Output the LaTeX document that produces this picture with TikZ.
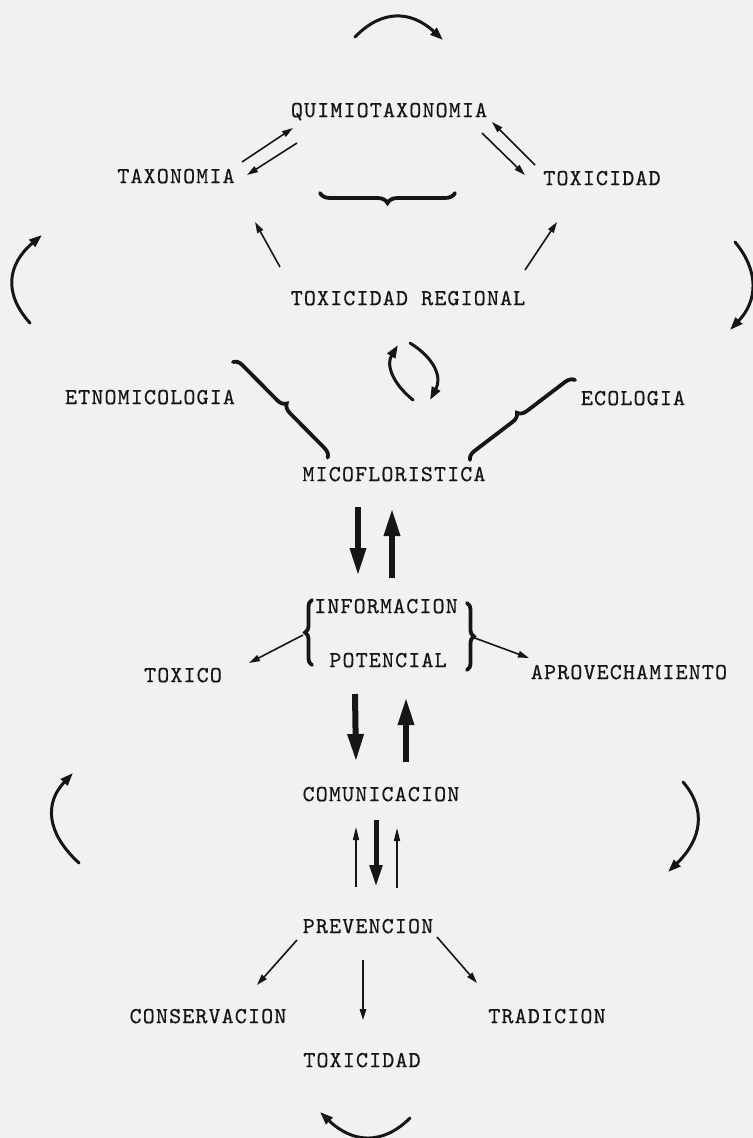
\documentclass[tikz,border=0pt]{standalone}
\usepackage{fontspec}
\newfontfamily\tw[LetterSpace=4.9,FakeBold=0.5]{lmmono10-regular.otf}
\usetikzlibrary{arrows.meta,decorations.pathreplacing}
\definecolor{bg}{RGB}{241,241,241}
\definecolor{ink}{RGB}{22,22,22}
\begin{document}
\begin{tikzpicture}[x=1bp,y=-1bp,
  lbl/.style={font=\tw\fontsize{23}{27}\selectfont, text=ink, inner sep=0pt, text depth=0pt},
  arr/.style={draw=ink, line width=1.6bp, -{Triangle[length=11bp,width=6.5bp]}},
  thinarr/.style={draw=ink, line width=1.4bp, -{Triangle[length=13bp,width=6bp]}},
  fatarr/.style={draw=ink, line width=6bp, -{Triangle[length=28bp,width=15bp]}},
  cyc/.style={draw=ink, line width=3bp, line cap=round, -{Triangle[length=13bp,width=9bp]}},
  brc/.style={draw=ink, line width=3.8bp, line cap=round, decorate, decoration={brace, amplitude=#1}},
]
\fill[bg] (0,0) rectangle (753,1138);
\useasboundingbox (0,0) rectangle (753,1138);

% nodes
\node[lbl] (quim) at (389,110) {QUIMIOTAXONOMIA};
\node[lbl] (tax) at (176,176) {TAXONOMIA};
\node[lbl] (toxt) at (602,178) {TOXICIDAD};
\node[lbl] (treg) at (408,298) {TOXICIDAD REGIONAL};
\node[lbl] (etno) at (150,397) {ETNOMICOLOGIA};
\node[lbl] (eco) at (633,398) {ECOLOGIA};
\node[lbl] (mico) at (394,474) {MICOFLORISTICA};
\node[lbl] (info) at (386,606) {INFORMACION};
\node[lbl] (pot) at (388,660) {POTENCIAL};
\node[lbl] (toxico) at (183,675) {TOXICO};
\node[lbl] (aprov) at (629,672) {APROVECHAMIENTO};
\node[lbl] (com) at (381,794) {COMUNICACION};
\node[lbl] (prev) at (368,926) {PREVENCION};
\node[lbl] (cons) at (208,1016) {CONSERVACION};
\node[lbl] (trad) at (547,1016) {TRADICION};
\node[lbl] (toxb) at (362,1060) {TOXICIDAD};

% top triangle connectors
\draw[arr] ([shift={(66,-14)}]tax.center) -- ([shift={(-96,18)}]quim.center);
\draw[arr] ([shift={(-92,33)}]quim.center) -- ([shift={(71,-1)}]tax.center);
\draw[arr] ([shift={(93,23)}]quim.center) -- ([shift={(-77,-3)}]toxt.center);
\draw[arr] ([shift={(-67,-13)}]toxt.center) -- ([shift={(103,12)}]quim.center);
\draw[arr] ([shift={(-128,-31)}]treg.center) -- ([shift={(79,46)}]tax.center);
\draw[arr] ([shift={(117,-28)}]treg.center) -- ([shift={(-45,44)}]toxt.center);

% braces
\draw[brc=10bp] (455,193) -- (320,193);
\draw[brc=9bp] (233,362) -- (328,458);
\draw[brc=9bp] (470,460) -- (575,380);
\draw[brc=7bp] (312,665) -- (312,600);
\draw[brc=7bp] (467,603) -- (467,670);

% thick vertical arrows
\draw[fatarr] ([shift={(-36,33)}]mico.center) -- ([shift={(-28,-30)}]info.center);
\draw[fatarr] ([shift={(6,-28)}]info.center) -- ([shift={(-2,34)}]mico.center);
\draw[fatarr] ([shift={(-33,34)}]pot.center) -- ([shift={(-25,-32)}]com.center);
\draw[fatarr] ([shift={(25,-32)}]com.center) -- ([shift={(18,37)}]pot.center);

% informacion side arrows
\draw[arr] ([shift={(-83,29)}]info.center) -- ([shift={(66,-12)}]toxico.center);
\draw[arr] ([shift={(86,31)}]info.center) -- ([shift={(-100,-14)}]aprov.center);

% comunicacion <-> prevencion
\draw[thinarr] ([shift={(-12,-39)}]prev.center) -- ([shift={(-25,33)}]com.center);
\draw[draw=ink, line width=5bp, -{Triangle[length=22bp,width=12bp]}] ([shift={(-5,26)}]com.center) -- ([shift={(8,-39)}]prev.center);
\draw[thinarr] ([shift={(29,-38)}]prev.center) -- ([shift={(16,34)}]com.center);

% prevencion outputs
\draw[arr] ([shift={(-71,14)}]prev.center) -- ([shift={(49,-31)}]cons.center);
\draw[arr] ([shift={(-5,34)}]prev.center) -- ([shift={(1,-40)}]toxb.center);
\draw[arr] ([shift={(69,11)}]prev.center) -- ([shift={(-70,-33)}]trad.center);

% cycle arcs
\draw[cyc] (355,37) .. controls (381.7,9.3) and (411,10.3) .. (443,40);
\draw[cyc] (30,323) .. controls (3.3,293.7) and (7.3,264.3) .. (42,235);
\draw[cyc] (735,242) .. controls (759.3,271.3) and (757.7,300.7) .. (730,330);
\draw[cyc] (413,400) .. controls (391.3,382.3) and (386.3,364) .. (398,345);
\draw[cyc] (410,343) .. controls (435.3,358.7) and (442,377.7) .. (430,400);
\draw[cyc] (79,863) .. controls (46.3,833) and (44.3,803) .. (73,773);
\draw[cyc] (683,782) .. controls (706.7,809.3) and (701.7,839.3) .. (668,872);
\draw[cyc] (410,1118) .. controls (382.7,1145.3) and (352.7,1143.3) .. (320,1112);
\end{tikzpicture}
\end{document}
